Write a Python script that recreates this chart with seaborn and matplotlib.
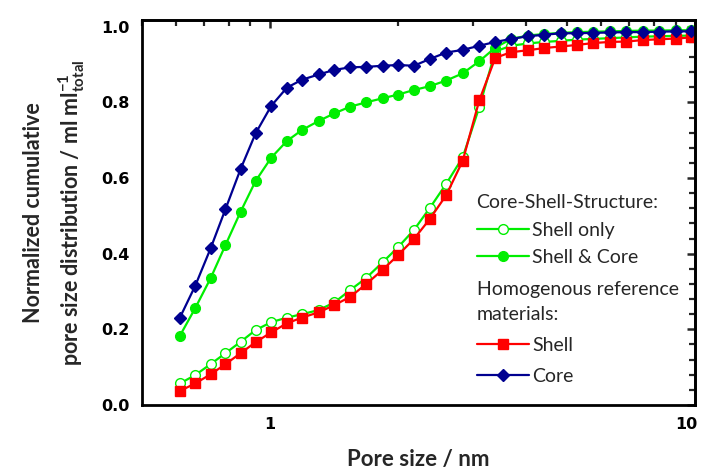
import matplotlib
matplotlib.use("Agg")
import matplotlib.pyplot as plt
import matplotlib.ticker as mticker
import matplotlib.transforms as mtransforms
import seaborn as sns

pore_size = [0.614, 0.667, 0.725, 0.786, 0.853, 0.925, 1.007, 1.096, 1.189, 1.302, 1.417,
             1.545, 1.681, 1.840, 2.005, 2.182, 2.378, 2.599, 2.842, 3.109, 3.390, 3.696,
             4.045, 4.423, 4.841, 5.268, 5.752, 6.303, 6.900, 7.546, 8.227, 9.035, 9.81]

shell_only = [0.057, 0.079, 0.108, 0.137, 0.167, 0.198, 0.219, 0.231, 0.240, 0.251, 0.271,
              0.304, 0.335, 0.377, 0.418, 0.463, 0.521, 0.585, 0.655, 0.788, 0.935, 0.950,
              0.956, 0.960, 0.963, 0.966, 0.968, 0.970, 0.972, 0.974, 0.975, 0.976, 0.977]

shell_and_core = [0.183, 0.256, 0.335, 0.423, 0.511, 0.592, 0.654, 0.698, 0.727, 0.751, 0.771,
                  0.789, 0.800, 0.811, 0.821, 0.833, 0.843, 0.858, 0.877, 0.909, 0.945, 0.968,
                  0.977, 0.981, 0.984, 0.986, 0.987, 0.988, 0.989, 0.990, 0.990, 0.991, 0.991]

shell = [0.037, 0.057, 0.081, 0.108, 0.137, 0.166, 0.192, 0.216, 0.231, 0.245, 0.264,
         0.286, 0.319, 0.357, 0.397, 0.439, 0.492, 0.555, 0.646, 0.806, 0.918, 0.933,
         0.938, 0.944, 0.948, 0.952, 0.957, 0.960, 0.961, 0.965, 0.967, 0.969, 0.972]

core = [0.231, 0.315, 0.414, 0.518, 0.624, 0.718, 0.791, 0.839, 0.860, 0.874, 0.886,
        0.893, 0.894, 0.897, 0.899, 0.897, 0.915, 0.932, 0.939, 0.950, 0.960, 0.968,
        0.975, 0.979, 0.983, 0.983, 0.984, 0.985, 0.986, 0.986, 0.987, 0.988, 0.988]

x_ticks = [1, 10]
x_tick_labels = ["1", "10"]
y_ticks = [0.0, 0.2, 0.4, 0.6, 0.8, 1.0]

sns.set_style("white")
plt.rcParams["font.family"] = ["Lato", "DejaVu Sans"]
plt.rcParams["mathtext.default"] = "regular"

GREEN = "#00ee00"
RED = "#ff0000"
BLUE = "#000090"

fig = plt.figure(figsize=(7.04, 4.73), dpi=100)
ax = fig.add_axes([0.2017, 0.1438, 0.7855, 0.8139])

common = dict(ax=ax, sort=False, linewidth=1.6, markeredgewidth=1.0)
sns.lineplot(x=pore_size, y=shell_only, color=GREEN, marker="o", markersize=7,
             markerfacecolor="white", markeredgecolor=GREEN, label="Shell only", **common)
sns.lineplot(x=pore_size, y=shell_and_core, color=GREEN, marker="o", markersize=7,
             markerfacecolor=GREEN, markeredgecolor=GREEN, label="Shell & Core", **common)
sns.lineplot(x=pore_size, y=shell, color=RED, marker="s", markersize=6.5,
             markerfacecolor=RED, markeredgecolor=RED, label="Shell", **common)
sns.lineplot(x=pore_size, y=core, color=BLUE, marker="D", markersize=6.5,
             markerfacecolor=BLUE, markeredgecolor=BLUE, label="Core", **common)

ax.set_xscale("log")
ax.set_xlim(0.5, 10)
ax.set_ylim(0, 1.018)
ax.set_xticks(x_ticks)
ax.set_xticklabels(x_tick_labels)
ax.xaxis.set_minor_locator(mticker.LogLocator(base=10, subs=[2, 3, 4, 5, 6, 7, 8, 9]))
ax.xaxis.set_minor_formatter(mticker.NullFormatter())
ax.set_yticks(y_ticks)
ax.yaxis.set_major_formatter(mticker.FormatStrFormatter("%.1f"))
ax.yaxis.set_minor_locator(mticker.AutoMinorLocator(5))

for sp in ax.spines.values():
    sp.set_visible(True)
    sp.set_linewidth(2.0)
    sp.set_color("black")

ax.tick_params(which="major", direction="inout", length=12, width=1.8, colors="black",
               labelsize=11.5, pad=3)
ax.tick_params(which="minor", direction="inout", length=7, width=1.6, colors="black")
for lab in ax.get_xticklabels() + ax.get_yticklabels():
    lab.set_fontweight("bold")
    lab.set_family("DejaVu Sans")

# keep the "10" label inside the figure edge
last_tick = ax.xaxis.get_major_ticks()[-1]
last_tick.label1.set_transform(last_tick.label1.get_transform()
                               + mtransforms.ScaledTranslation(-6 / 72, 0, fig.dpi_scale_trans))

# mirrored inward ticks on top / right
top = ax.secondary_xaxis("top")
top.set_xticks(x_ticks)
top.xaxis.set_minor_locator(mticker.LogLocator(base=10, subs=[2, 3, 4, 5, 6, 7, 8, 9]))
top.tick_params(which="major", direction="in", length=5.5, width=1.8, labeltop=False)
top.tick_params(which="minor", direction="in", length=4, width=1.6, labeltop=False)
top.xaxis.set_minor_formatter(mticker.NullFormatter())
top.spines["top"].set_linewidth(2.0)

right = ax.secondary_yaxis("right")
right.set_yticks(y_ticks)
right.yaxis.set_minor_locator(mticker.AutoMinorLocator(5))
right.tick_params(which="major", direction="in", length=5.5, width=1.8, labelright=False)
right.tick_params(which="minor", direction="in", length=4, width=1.6, labelright=False)
right.spines["right"].set_linewidth(2.0)

ax.set_xlabel("Pore size / nm", fontsize=16, fontweight="bold", labelpad=12)
ax.set_ylabel("Normalized cumulative\npore size distribution / ml ml$^{-1}_{total}$",
              fontsize=15.5, fontweight="bold", labelpad=10, linespacing=1.55)

handles, labels = ax.get_legend_handles_labels()
if ax.get_legend() is not None:
    ax.get_legend().remove()
hmap = dict(zip(labels, handles))

leg_kw = dict(frameon=False, loc="upper left", fontsize=14, title_fontsize=14,
              handlelength=2.7, handletextpad=0.15, borderpad=0,
              borderaxespad=0, alignment="left")
leg1 = ax.legend(handles=[hmap["Shell only"], hmap["Shell & Core"]],
                 labels=["Shell only", "Shell & Core"], title="Core-Shell-Structure:",
                 bbox_to_anchor=(0.605, 0.548), labelspacing=0.54, **leg_kw)
ax.add_artist(leg1)
leg2 = ax.legend(handles=[hmap["Shell"], hmap["Core"]], labels=["Shell", "Core"],
                 title="Homogenous reference\nmaterials:",
                 bbox_to_anchor=(0.605, 0.322), labelspacing=0.7, **leg_kw)
for lg in (leg1, leg2):
    lg.get_title().set_linespacing(1.6)

fig.savefig("out.png", dpi=100)
